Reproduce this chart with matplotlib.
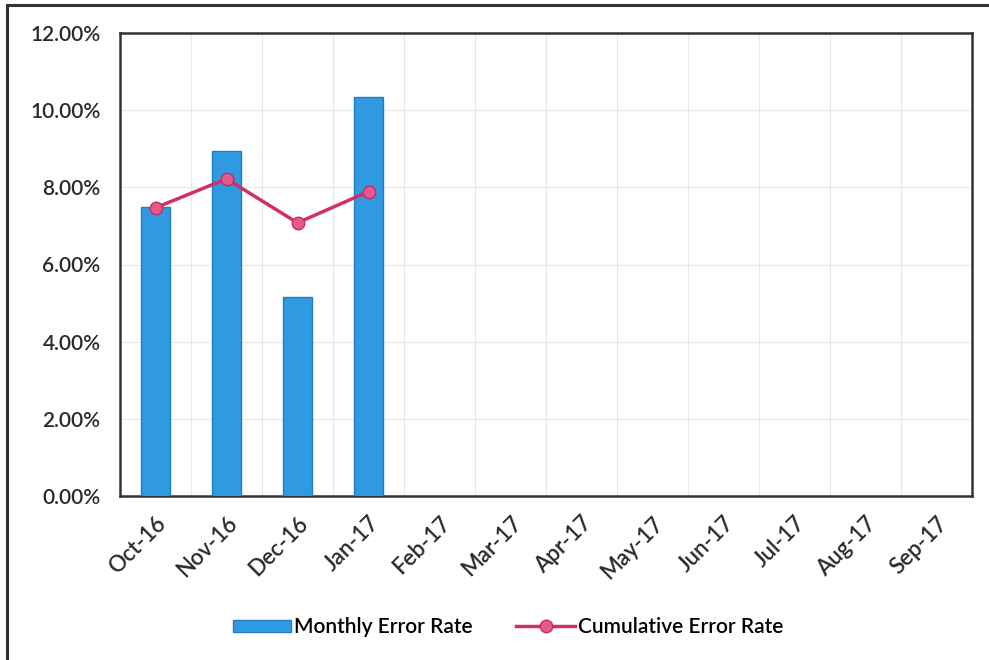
import matplotlib
matplotlib.use("Agg")
import matplotlib.pyplot as plt
from matplotlib.lines import Line2D
from matplotlib.ticker import FuncFormatter, MultipleLocator

months = ["Oct-16", "Nov-16", "Dec-16", "Jan-17", "Feb-17", "Mar-17",
          "Apr-17", "May-17", "Jun-17", "Jul-17", "Aug-17", "Sep-17"]
monthly_error = [7.50, 8.95, 5.17, 10.33]
cumulative_error = [7.47, 8.22, 7.08, 7.89]

plt.rcParams['font.family'] = ['Lato', 'DejaVu Sans']
plt.rcParams['font.weight'] = 'semibold'

fig = plt.figure(figsize=(9.89, 6.6), dpi=100)
ax = fig.add_axes([120/989, 1-496/660, (972-120)/989, (496-33)/660])

x_all = list(range(len(months)))
x_data = x_all[:len(monthly_error)]

ax.bar(x_data, monthly_error, width=0.4, color="#2F9AE0", edgecolor="#1F7FC4",
       linewidth=1.0, zorder=3, label="Monthly Error Rate")
ax.plot(x_data, cumulative_error, color="#D0306A", linewidth=2.5, marker="o",
        markersize=9, markerfacecolor="#E45A8E", markeredgecolor="#C82A62",
        zorder=4, label="Cumulative Error Rate")

ax.set_xlim(-0.5, len(months) - 0.5)
ax.set_ylim(0, 12)
ax.yaxis.set_major_locator(MultipleLocator(2))
ax.yaxis.set_major_formatter(FuncFormatter(lambda v, p: f"{v:.2f}%"))
ax.set_xticks(x_all)
ax.set_xticklabels(months, rotation=45, ha="right", rotation_mode="anchor")
ax.set_xticks([i + 0.5 for i in x_all[:-1]], minor=True)
ax.grid(True, which="minor", axis="x", color="#E8E8E8", linewidth=0.8, zorder=0)
ax.grid(True, which="major", axis="y", color="#E8E8E8", linewidth=0.8, zorder=0)
ax.tick_params(axis="both", which="both", length=0, labelsize=15, colors="#2A2A2A")
ax.tick_params(axis="x", pad=12, labelsize=16)
ax.tick_params(axis="y", pad=14)
for sp in ax.spines.values():
    sp.set_color("#333333")
    sp.set_linewidth(1.8)

handles = [plt.Rectangle((0, 0), 1, 1, facecolor="#2F9AE0", edgecolor="#1F7FC4"),
           Line2D([0], [0], color="#D0306A", linewidth=2.5, marker="o", markersize=9,
                  markerfacecolor="#E45A8E", markeredgecolor="#C82A62")]
fig.legend(handles, ["Monthly Error Rate", "Cumulative Error Rate"],
           loc="center", bbox_to_anchor=(508/989, 1-627/660), ncol=2, frameon=False,
           fontsize=15, handlelength=2.8, handleheight=0.5, columnspacing=2.1,
           handletextpad=0.15)

# outer frame (left and top edges visible)
fig.add_artist(Line2D([7/989, 7/989], [0, 1-5/660], color="#333333", linewidth=2.2,
                      transform=fig.transFigure))
fig.add_artist(Line2D([7/989, 1], [1-5/660, 1-5/660], color="#333333", linewidth=2.2,
                      transform=fig.transFigure))

fig.savefig("out.png", dpi=100)
